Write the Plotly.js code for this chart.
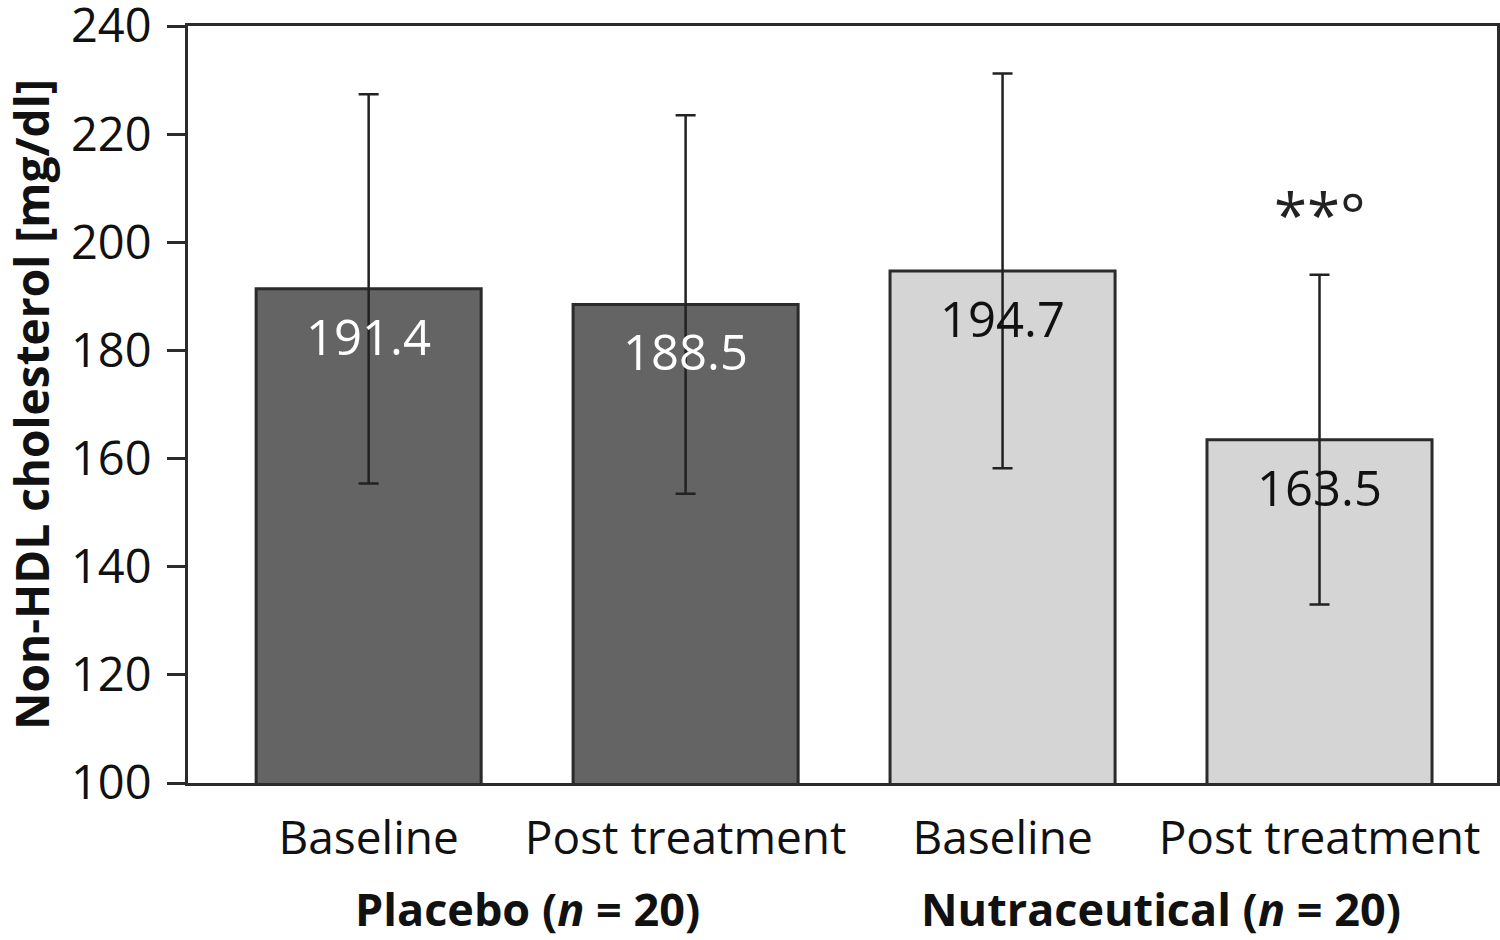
<!DOCTYPE html>
<html>
<head>
<meta charset="utf-8">
<script src="https://cdn.plot.ly/plotly-3.0.1.min.js"></script>
<style>html,body{margin:0;padding:0;background:#fff;}#chart{width:1500px;height:940px;}</style>
</head>
<body>
<div id="chart"></div>
<script>
const categories = ["Baseline", "Post treatment", "Baseline", "Post treatment"];
const groups = ["Placebo (<i>n</i> = 20)", "Nutraceutical (<i>n</i> = 20)"];
const means = [191.4, 188.5, 194.7, 163.5];
const sds = [36, 35, 36.5, 30.5];
const valueLabels = ["191.4", "188.5", "194.7", "163.5"];
const significance = ["", "", "", "**°"];
const yTicks = [100, 120, 140, 160, 180, 200, 220, 240];

const FONT = "Open Sans, Noto Sans, sans-serif";
const xs = categories.map((c, i) => i);
const fills = ["#646464", "#646464", "#d5d5d5", "#d5d5d5"];
const labelColors = ["#ffffff", "#ffffff", "#111111", "#111111"];

const trace = {
  type: "bar",
  x: xs,
  y: means,
  base: 0,
  width: 0.71,
  marker: {color: fills, line: {color: "#2b2b2b", width: 3}},
  error_y: {type: "data", array: sds, visible: true, color: "#222222", thickness: 2.5, width: 10},
  hoverinfo: "skip"
};

const annotations = [];
xs.forEach((x, i) => {
  annotations.push({
    x: x, y: means[i], xref: "x", yref: "y",
    text: valueLabels[i], showarrow: false,
    yanchor: "top", yshift: -12,
    font: {family: FONT, size: 49, color: labelColors[i]}
  });
  if (significance[i]) {
    annotations.push({
      x: x, y: means[i] + sds[i], xref: "x", yref: "y",
      text: significance[i], showarrow: false,
      yanchor: "bottom", yshift: 18,
      font: {family: FONT, size: 60, color: "#222222"}
    });
  }
});
groups.forEach((g, k) => {
  annotations.push({
    x: 2 * k + 0.5, y: 0, xref: "x", yref: "paper",
    text: "<b>" + g + "</b>", showarrow: false,
    yanchor: "middle", yshift: -125,
    font: {family: FONT, size: 45, color: "#111111"}
  });
});

const layout = {
  width: 1500, height: 940,
  margin: {l: 188, r: 3, t: 26, b: 157},
  paper_bgcolor: "#ffffff", plot_bgcolor: "#ffffff",
  showlegend: false,
  font: {family: FONT, color: "#111111"},
  xaxis: {
    range: [-0.57, 3.56],
    tickvals: xs, ticktext: categories,
    showgrid: false, zeroline: false,
    showline: true, linecolor: "#2b2b2b", linewidth: 3, mirror: true,
    ticks: "", ticklen: 0, ticklabelstandoff: 13,
    tickfont: {family: FONT, size: 46, color: "#111111"}
  },
  yaxis: {
    range: [100, 240],
    tickvals: yTicks,
    showgrid: false, zeroline: false,
    showline: true, linecolor: "#2b2b2b", linewidth: 3, mirror: true,
    ticks: "outside", ticklen: 18, tickwidth: 3, tickcolor: "#2b2b2b",
    ticklabelstandoff: 6, ticklabeloverflow: "allow",
    tickfont: {family: FONT, size: 47, color: "#111111"},
    title: {text: "<b>Non-HDL cholesterol [mg/dl]</b>", font: {family: FONT, size: 46, color: "#111111"}, standoff: 26}
  },
  annotations: annotations
};

Plotly.newPlot("chart", [trace], layout, {displayModeBar: false, staticPlot: true});
</script>
</body>
</html>
